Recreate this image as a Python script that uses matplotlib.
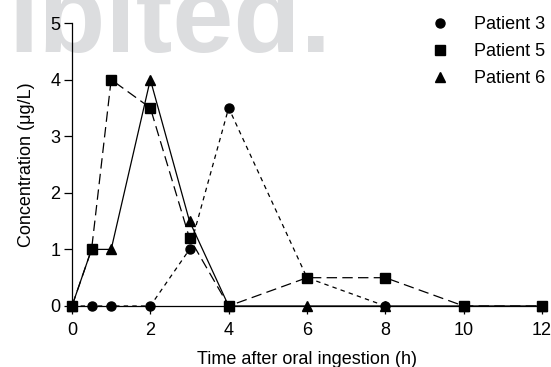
import matplotlib
matplotlib.use("Agg")
import matplotlib.pyplot as plt
from matplotlib.lines import Line2D

plt.rcParams['font.family'] = ['Liberation Sans', 'DejaVu Sans']
plt.rcParams['lines.scale_dashes'] = False

# Data
t3 = [0, 0.5, 1, 2, 3, 4, 6, 8]
c3 = [0, 0, 0, 0, 1.0, 3.5, 0.5, 0]
t5 = [0, 0.5, 1, 2, 3, 4, 6, 8, 10, 12]
c5 = [0, 1.0, 4.0, 3.5, 1.2, 0, 0.5, 0.5, 0, 0]
t6 = [0, 0.5, 1, 2, 3, 4, 6, 8, 10, 12]
c6 = [0, 1.0, 1.0, 4.0, 1.5, 0, 0, 0, 0, 0]
labels = ["Patient 3", "Patient 5", "Patient 6"]
xticks = [0, 2, 4, 6, 8, 10, 12]
yticks = [0, 1, 2, 3, 4, 5]

W, H = 551, 367
fig = plt.figure(figsize=(W / 100, H / 100), dpi=100)

# watermark
fig.text(8 / W, 1 - 52 / H, "ibited.", fontsize=79, fontweight='bold',
         color='#dcdddf', ha='left', va='baseline', zorder=-5)

ax = fig.add_axes([72 / W, 1 - 306 / H, (542 - 72) / W, (306 - 23) / H])
ax.patch.set_alpha(0)
ax.set_zorder(2)

lw = 0.9
ax.plot(t6, c6, color='black', lw=lw, linestyle='-', marker='^', ms=7,
        clip_on=False, zorder=3)
ax.plot(t5, c5, color='black', lw=lw, linestyle=(0, (7.5, 3.8)), marker='s', ms=6.5,
        clip_on=False, zorder=4)
ax.plot(t3, c3, color='black', lw=lw, linestyle=(0, (3.2, 3.0)), marker='o', ms=6.5,
        clip_on=False, zorder=5)

ax.set_xlim(0, 12)
ax.set_ylim(0, 5)
ax.set_xticks(xticks)
ax.set_yticks(yticks)
ax.spines['top'].set_visible(False)
ax.spines['right'].set_visible(False)
for s in ['left', 'bottom']:
    ax.spines[s].set_linewidth(0.9)
ax.tick_params(axis='both', direction='out', length=5.5, width=0.9, labelsize=13)
ax.tick_params(axis='x', pad=6)
ax.tick_params(axis='y', pad=3)

ax.set_xlabel("Time after oral ingestion (h)", fontsize=13, labelpad=9)
ax.set_ylabel("Concentration (μg/L)", fontsize=13, labelpad=11)

handles = [Line2D([], [], color='black', marker='o', ls='none', ms=6.5),
           Line2D([], [], color='black', marker='s', ls='none', ms=6.5),
           Line2D([], [], color='black', marker='^', ls='none', ms=7)]
leg = fig.legend(handles, labels, loc='upper left', bbox_to_anchor=(431 / W, 1 - 16 / H),
                 frameon=False, fontsize=13, handlelength=1.0, handletextpad=1.4,
                 labelspacing=0.55, borderaxespad=0, borderpad=0)
leg.set_zorder(3)

fig.savefig("out.png", dpi=100)
